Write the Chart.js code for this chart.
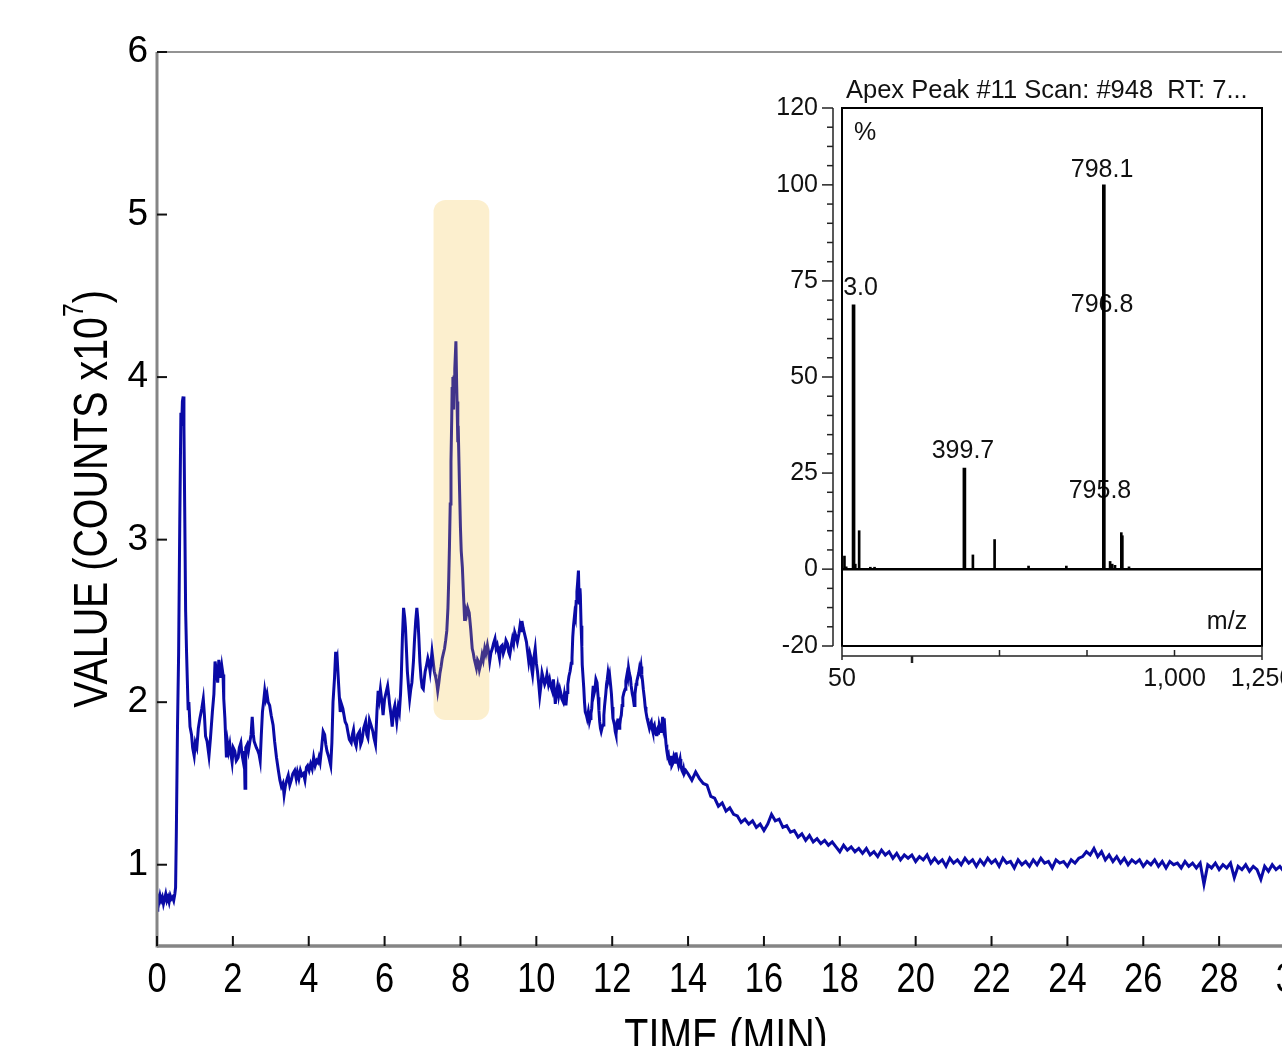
<!DOCTYPE html>
<html>
<head>
<meta charset="utf-8">
<script src="https://cdn.jsdelivr.net/npm/chart.js@4.4.1/dist/chart.umd.min.js"></script>
<style>
  html, body { margin: 0; padding: 0; background: #fff; overflow: hidden; }
  #wrap { position: relative; width: 1282px; height: 1046px; overflow: hidden; background: #fff; }
  #mainBox { position: absolute; left: 0; top: 0; width: 1340px; height: 1100px; }
  #insetBox { position: absolute; left: 760px; top: 60px; width: 560px; height: 650px; }
</style>
</head>
<body>
<div id="wrap">
  <div id="mainBox"><canvas id="mainChart"></canvas></div>
  <div id="insetBox"><canvas id="insetChart"></canvas></div>
</div>
<script>
// ---- chromatogram (time in min, value in counts x10^7) ----
const traceStart = [[0.00,0.72],[0.02,0.80],[0.05,0.77],[0.08,0.81],[0.11,0.78],[0.14,0.80],[0.17,0.76],[0.20,0.79],[0.23,0.82],[0.26,0.78],[0.29,0.80],[0.32,0.77],[0.35,0.81],[0.38,0.79],[0.41,0.80],[0.44,0.78],[0.47,0.82],[0.49,0.86],[0.51,1.20],[0.54,1.84],[0.57,2.30],[0.60,3.10],[0.63,3.78],[0.65,3.70],[0.67,3.85],[0.69,3.88],[0.71,3.70],[0.73,3.20],[0.755,2.56],[0.78,2.30],[0.80,2.13],[0.82,1.96],[0.84,2.00],[0.87,1.85],[0.91,1.80],[0.94,1.72],[0.98,1.67],[1.01,1.75],[1.05,1.72],[1.09,1.84],[1.13,1.90],[1.18,1.96],[1.22,2.02],[1.25,1.92],[1.28,1.79],[1.32,1.76],[1.37,1.67],[1.41,1.78],[1.46,1.94],[1.50,2.05],[1.53,2.25],[1.57,2.19],[1.60,2.12],[1.63,2.26],[1.66,2.20],[1.68,2.15],[1.71,2.22],[1.74,2.17],[1.76,2.02],[1.79,1.90],[1.81,1.78],[1.83,1.66],[1.86,1.75],[1.89,1.70],[1.92,1.74],[1.95,1.68],[1.98,1.63],[2.01,1.72],[2.05,1.70],[2.09,1.64],[2.14,1.66],[2.17,1.72],[2.21,1.75],[2.24,1.68],[2.27,1.64],[2.30,1.70],[2.32,1.47],[2.34,1.72],[2.38,1.74],[2.41,1.70],[2.45,1.76],[2.48,1.80],[2.51,1.91],[2.54,1.80],[2.56,1.76],[2.59,1.74],[2.62,1.72],[2.66,1.70],[2.69,1.68],[2.72,1.64],[2.75,1.80],[2.78,1.94],[2.81,2.00],[2.84,2.07],[2.87,2.02],[2.90,2.05],[2.93,2.00],[2.97,1.98],[3.01,1.92],[3.06,1.86],[3.10,1.76],[3.15,1.66],[3.20,1.58]];

const traceRise = [[3.24,1.52],[3.28,1.48],[3.32,1.50],[3.35,1.43],[3.38,1.48],[3.42,1.52],[3.46,1.55],[3.50,1.49],[3.54,1.52],[3.58,1.56],[3.63,1.58],[3.67,1.53],[3.70,1.57],[3.74,1.53],[3.78,1.58],[3.82,1.55],[3.86,1.56],[3.90,1.52],[3.94,1.60],[3.97,1.61],[4.01,1.58],[4.05,1.62],[4.09,1.59],[4.13,1.66],[4.17,1.61],[4.21,1.64],[4.24,1.63],[4.27,1.66],[4.30,1.63],[4.34,1.72],[4.38,1.82],[4.42,1.80],[4.45,1.74],[4.48,1.70],[4.53,1.66],[4.58,1.61],[4.61,1.75],[4.64,2.00],[4.68,2.15],[4.71,2.31],[4.73,2.25],[4.75,2.27],[4.79,2.10],[4.83,1.94],[4.86,1.99],[4.90,1.96],[4.93,1.92],[4.96,1.88],[5.00,1.86],[5.03,1.82],[5.07,1.77],[5.12,1.75],[5.15,1.80],[5.18,1.83],[5.21,1.76],[5.25,1.73],[5.29,1.80],[5.34,1.82],[5.37,1.74],[5.40,1.76],[5.45,1.84],[5.50,1.88],[5.53,1.80],[5.56,1.78],[5.60,1.89],[5.64,1.86],[5.69,1.82],[5.72,1.78],[5.76,1.74],[5.80,1.95],[5.83,2.07],[5.86,2.02],[5.89,2.08],[5.93,2.00],[5.96,1.92],[6.00,2.02],[6.04,2.06],[6.08,2.10],[6.11,2.04],[6.13,1.99],[6.17,1.92],[6.20,1.85],[6.24,1.95],[6.27,1.98],[6.30,1.92],[6.32,1.88],[6.36,1.97],[6.39,1.94],[6.42,2.05],[6.44,2.16],[6.47,2.40],[6.50,2.58],[6.53,2.52],[6.55,2.46],[6.58,2.30],[6.60,2.19],[6.63,2.10],[6.66,2.02],[6.69,2.08],[6.72,2.12],[6.76,2.25],[6.79,2.39],[6.82,2.50],[6.85,2.58],[6.88,2.50],[6.90,2.41],[6.93,2.25],[6.96,2.15],[6.99,2.09],[7.02,2.08],[7.05,2.15],[7.07,2.19],[7.10,2.22],[7.14,2.27],[7.17,2.24],[7.20,2.19],[7.23,2.26],[7.25,2.31],[7.28,2.25],[7.31,2.19],[7.33,2.17],[7.35,2.15],[7.38,2.11],[7.40,2.07],[7.43,2.12],[7.46,2.18],[7.49,2.22],[7.52,2.27],[7.55,2.30],[7.58,2.33]];

const tracePeak = [[7.61,2.38],[7.64,2.44],[7.67,2.58],[7.69,2.75],[7.71,2.96],[7.73,3.22],[7.75,3.48],[7.77,3.75],[7.78,3.93],[7.80,4.00],[7.82,3.80],[7.83,4.00],[7.85,4.05],[7.88,4.22],[7.90,3.95],[7.91,3.85],[7.93,3.60],[7.94,3.70],[7.97,3.37],[8.00,3.07],[8.02,2.93],[8.05,2.83],[8.08,2.66],[8.11,2.50],[8.14,2.56],[8.16,2.54],[8.19,2.58],[8.23,2.55],[8.27,2.45],[8.31,2.33],[8.34,2.30],[8.36,2.27],[8.39,2.24],[8.42,2.21],[8.45,2.26],[8.47,2.25],[8.50,2.20],[8.53,2.23],[8.57,2.29],[8.60,2.26],[8.64,2.33],[8.67,2.30],[8.71,2.35],[8.74,2.31],[8.77,2.25],[8.80,2.30],[8.84,2.33],[8.87,2.36],[8.91,2.39],[8.94,2.33],[8.97,2.35],[9.00,2.31],[9.03,2.27],[9.06,2.34],[9.10,2.35],[9.13,2.30],[9.17,2.33],[9.20,2.38],[9.24,2.36],[9.27,2.31],[9.30,2.29],[9.34,2.35],[9.37,2.39],[9.40,2.36],[9.43,2.43],[9.47,2.40],[9.50,2.37],[9.54,2.42],[9.57,2.47],[9.60,2.44],[9.62,2.50],[9.65,2.46],[9.68,2.43],[9.71,2.40],[9.74,2.37],[9.77,2.31],[9.80,2.25],[9.83,2.30],[9.86,2.27],[9.88,2.20],[9.90,2.17],[9.94,2.28],[9.97,2.33],[10.00,2.24]];

const traceLate = [[10.03,2.19],[10.06,2.12],[10.09,2.04],[10.12,2.10],[10.15,2.18],[10.18,2.15],[10.22,2.11],[10.25,2.13],[10.28,2.17],[10.32,2.11],[10.35,2.14],[10.38,2.10],[10.42,2.07],[10.45,2.14],[10.48,2.06],[10.50,1.99],[10.53,2.06],[10.56,2.10],[10.59,2.04],[10.62,2.08],[10.65,2.05],[10.67,2.02],[10.71,2.00],[10.74,2.05],[10.76,2.02],[10.78,1.98],[10.81,2.06],[10.83,2.11],[10.86,2.16],[10.89,2.19],[10.92,2.24],[10.94,2.27],[10.96,2.40],[10.98,2.47],[11.01,2.54],[11.03,2.52],[11.05,2.62],[11.07,2.68],[11.09,2.74],[11.11,2.81],[11.13,2.61],[11.15,2.70],[11.16,2.66],[11.18,2.47],[11.20,2.34],[11.21,2.23],[11.25,2.09],[11.27,2.00],[11.29,1.94],[11.32,1.92],[11.34,1.90],[11.37,1.94],[11.40,1.88],[11.42,1.90],[11.44,1.93],[11.46,1.96],[11.48,2.04],[11.50,2.10],[11.52,2.05],[11.54,2.07],[11.57,2.14],[11.60,2.12],[11.63,2.03],[11.65,1.95],[11.67,1.88],[11.69,1.84],[11.71,1.82],[11.74,1.85],[11.76,1.86],[11.78,1.92],[11.80,1.98],[11.83,2.05],[11.85,2.11],[11.87,2.14],[11.89,2.18],[11.91,2.15],[11.93,2.17],[11.96,2.10],[11.98,2.05],[12.00,1.97],[12.02,1.90],[12.04,1.88],[12.06,1.86],[12.08,1.82],[12.10,1.80],[12.13,1.88],[12.15,1.90],[12.18,1.84],[12.20,1.86],[12.22,1.90],[12.24,1.92],[12.26,1.98],[12.28,2.03],[12.31,2.06],[12.34,2.08],[12.36,2.13],[12.39,2.17],[12.41,2.15],[12.43,2.21],[12.45,2.18],[12.48,2.15],[12.50,2.10],[12.53,2.05],[12.55,2.03],[12.58,1.98],[12.60,2.05],[12.63,2.11],[12.65,2.13],[12.67,2.15],[12.70,2.18],[12.72,2.21],[12.74,2.19],[12.76,2.22],[12.78,2.17],[12.80,2.13],[12.82,2.08],[12.85,2.02],[12.87,1.97],[12.89,1.94],[12.92,1.90],[12.94,1.88],[12.96,1.86],[12.98,1.84],[13.01,1.87],[13.03,1.88],[13.05,1.84],[13.07,1.82],[13.09,1.85],[13.11,1.86],[13.14,1.81],[13.16,1.80],[13.18,1.83],[13.20,1.84],[13.22,1.80],[13.24,1.86],[13.27,1.83],[13.29,1.82],[13.31,1.85],[13.33,1.91],[13.35,1.86],[13.37,1.90],[13.40,1.80],[13.42,1.74],[13.44,1.70],[13.46,1.67],[13.48,1.68],[13.50,1.64],[13.53,1.62],[13.55,1.67],[13.57,1.61],[13.59,1.62],[13.62,1.66],[13.64,1.64],[13.66,1.63],[13.68,1.69],[13.70,1.66],[13.72,1.64],[13.75,1.61],[13.77,1.63],[13.79,1.65],[13.81,1.61],[13.84,1.58],[13.86,1.57],[13.88,1.59],[13.90,1.56],[13.94,1.58]];

const traceTail = [[14.0,1.56],[14.1,1.52],[14.2,1.57],[14.3,1.53],[14.4,1.50],[14.5,1.49],[14.6,1.42],[14.7,1.41],[14.8,1.36],[14.9,1.38],[15.0,1.33],[15.1,1.35],[15.2,1.31],[15.3,1.30],[15.4,1.26],[15.5,1.28],[15.6,1.25],[15.7,1.27],[15.8,1.23],[15.9,1.25],[16.0,1.21],[16.1,1.25],[16.2,1.31],[16.3,1.27],[16.4,1.28],[16.5,1.23],[16.6,1.24],[16.7,1.20],[16.8,1.21],[16.9,1.17],[17.0,1.19],[17.1,1.15],[17.2,1.18],[17.3,1.14],[17.4,1.16],[17.5,1.13],[17.6,1.15],[17.7,1.12],[17.8,1.14],[17.9,1.11],[18.0,1.08],[18.1,1.12],[18.2,1.09],[18.3,1.11],[18.4,1.08],[18.5,1.10],[18.6,1.07],[18.7,1.10],[18.8,1.06],[18.9,1.08],[19.0,1.05],[19.1,1.09],[19.2,1.06],[19.3,1.08],[19.4,1.04],[19.5,1.07],[19.6,1.03],[19.7,1.06],[19.8,1.04],[19.9,1.06],[20.0,1.02],[20.1,1.05],[20.2,1.03],[20.3,1.06],[20.4,1.01],[20.5,1.04],[20.6,1.01],[20.7,1.03],[20.8,0.99],[20.9,1.04],[21.0,1.01],[21.1,1.03],[21.2,1.00],[21.3,1.04],[21.4,1.01],[21.5,1.03],[21.6,0.99],[21.7,1.03],[21.8,1.00],[21.9,1.04],[22.0,1.01],[22.1,1.03],[22.2,0.99],[22.3,1.04],[22.4,1.01],[22.5,1.02],[22.6,0.98],[22.7,1.03],[22.8,1.00],[22.9,1.02],[23.0,0.99],[23.1,1.03],[23.2,1.00],[23.3,1.04],[23.4,1.01],[23.5,1.02],[23.6,0.98],[23.7,1.03],[23.8,1.01],[23.9,1.02],[24.0,0.99],[24.1,1.03],[24.2,1.01],[24.3,1.04],[24.4,1.05],[24.5,1.08],[24.6,1.06],[24.7,1.10],[24.8,1.05],[24.9,1.08],[25.0,1.03],[25.1,1.06],[25.2,1.02],[25.3,1.05],[25.4,1.01],[25.5,1.04],[25.6,1.00],[25.7,1.03],[25.8,1.01],[25.9,1.03],[26.0,0.99],[26.1,1.02],[26.2,1.00],[26.3,1.03],[26.4,0.99],[26.5,1.02],[26.6,0.98],[26.7,1.02],[26.8,1.00],[26.9,1.01],[27.0,0.98],[27.1,1.02],[27.2,0.99],[27.3,1.01],[27.4,0.98],[27.5,1.01],[27.6,0.88],[27.7,1.00],[27.8,0.98],[27.9,1.01],[28.0,0.97],[28.1,1.00],[28.2,0.98],[28.3,1.01],[28.4,0.92],[28.5,0.99],[28.6,0.97],[28.7,1.00],[28.8,0.96],[28.9,0.99],[29.0,0.97],[29.1,0.91],[29.2,0.99],[29.3,0.96],[29.4,1.00],[29.5,0.97],[29.6,0.99],[29.7,0.96],[29.8,0.98],[29.9,0.97],[30.0,0.99]];

const timeTicks = [0, 2, 4, 6, 8, 10, 12, 14, 16, 18, 20, 22, 24, 26, 28, 30];
const valueTicks = [1, 2, 3, 4, 5, 6];
// highlighted window: [t start, t end, low value, high value]
const highlightWindow = [7.29, 8.76, 1.89, 5.09];

// ---- inset mass spectrum (m/z, relative %) ----
const majorMz = [83.0, 399.7, 798.1];
const majorPct = [68.8, 26.3, 100];
const minorMz = [57, 62, 88, 99, 131, 143, 424, 486, 583, 691, 816, 822, 830, 848, 851, 870];
const minorPct = [3.4, 0.6, 1.3, 10.0, 0.5, 0.5, 3.7, 7.7, 0.8, 0.8, 2.0, 1.3, 1.0, 9.5, 8.7, 0.6];
const peakLabelText = ['83.0', '399.7', '798.1', '796.8', '795.8'];
const peakLabelMz = [83, 395.7, 793, 793, 787];
const peakLabelPct = [73.2, 30.7, 103.9, 68.8, 20.3];
const mzTicks = [50, 1000, 1250];
const pctTicks = [-20, 0, 25, 50, 75, 100, 120];

const plainFont = '"Liberation Sans", Arial, sans-serif';
const narrowScale = 0.82;   // Arial Narrow look: Liberation Sans squeezed horizontally
const traceColor = '#0a0aa6';

Chart.defaults.color = '#000';

const tracePoints = [...traceStart, ...traceRise, ...tracePeak, ...traceLate, ...traceTail]
  .map(p => ({ x: p[0], y: p[1] }));

function strokeLine(ctx, x1, y1, x2, y2) {
  ctx.beginPath();
  ctx.moveTo(x1, y1);
  ctx.lineTo(x2, y2);
  ctx.stroke();
}

// narrow text centred on (x, baseline y)
function narrowText(ctx, txt, x, y, size) {
  ctx.save();
  ctx.translate(x, y);
  ctx.scale(narrowScale, 1);
  ctx.font = size + 'px ' + plainFont;
  ctx.textAlign = 'center';
  ctx.textBaseline = 'alphabetic';
  ctx.fillText(txt, 0, 0);
  ctx.restore();
}

const mainDecor = {
  id: 'mainDecor',
  afterDatasetsDraw(chart) {
    const { ctx, scales: { x, y } } = chart;
    const l = x.getPixelForValue(highlightWindow[0]);
    const r = x.getPixelForValue(highlightWindow[1]);
    const t = y.getPixelForValue(highlightWindow[3]);
    const b = y.getPixelForValue(highlightWindow[2]);
    ctx.save();
    ctx.fillStyle = 'rgba(242, 190, 50, 0.24)';
    ctx.beginPath();
    ctx.roundRect(l, t, r - l, b - t, 12);
    ctx.fill();
    ctx.restore();
  },
  afterDraw(chart) {
    const { ctx, chartArea: a, scales: { x, y } } = chart;
    ctx.save();
    // frame top
    ctx.strokeStyle = '#6f6f6f';
    ctx.lineWidth = 1.5;
    strokeLine(ctx, a.left, a.top, a.right, a.top);
    // axes
    ctx.strokeStyle = '#858585';
    ctx.lineWidth = 3;
    strokeLine(ctx, a.left, a.top, a.left, a.bottom + 1.5);
    ctx.lineWidth = 3.5;
    strokeLine(ctx, a.left, a.bottom, a.right, a.bottom);
    // inward ticks
    ctx.strokeStyle = '#111';
    ctx.lineWidth = 2;
    y.ticks.forEach(tk => {
      const py = y.getPixelForValue(tk.value);
      strokeLine(ctx, a.left, py, a.left + 10, py);
    });
    x.ticks.forEach(tk => {
      const px = x.getPixelForValue(tk.value);
      strokeLine(ctx, px, a.bottom, px, a.bottom - 10);
    });
    // x tick labels (narrow)
    ctx.fillStyle = '#000';
    x.ticks.forEach(tk => {
      narrowText(ctx, String(tk.value), x.getPixelForValue(tk.value), a.bottom + 46, 42);
    });
    // y title with superscript
    const part1 = 'VALUE (COUNTS x10', part2 = '7', part3 = ')';
    ctx.font = '48px ' + plainFont;
    const w1 = ctx.measureText(part1).width, w3 = ctx.measureText(part3).width;
    ctx.font = '30px ' + plainFont;
    const w2 = ctx.measureText(part2).width;
    const total = w1 + w2 + w3;
    ctx.save();
    ctx.translate(107, (a.top + a.bottom) / 2);
    ctx.rotate(-Math.PI / 2);
    ctx.scale(narrowScale, 1);
    ctx.textAlign = 'left';
    ctx.textBaseline = 'alphabetic';
    ctx.font = '48px ' + plainFont;
    ctx.fillText(part1, -total / 2, 0);
    ctx.font = '30px ' + plainFont;
    ctx.fillText(part2, -total / 2 + w1, -24);
    ctx.font = '48px ' + plainFont;
    ctx.fillText(part3, -total / 2 + w1 + w2, 0);
    ctx.restore();
    // x title
    narrowText(ctx, 'TIME (MIN)', (a.left + a.right) / 2, a.bottom + 106, 48);
    ctx.restore();
  }
};

new Chart(document.getElementById('mainChart'), {
  type: 'line',
  data: {
    datasets: [{
      data: tracePoints,
      borderColor: traceColor,
      borderWidth: 3,
      pointRadius: 0,
      tension: 0,
      fill: false
    }]
  },
  options: {
    responsive: true,
    maintainAspectRatio: false,
    animation: false,
    layout: { padding: { top: 52, right: 45, left: 0, bottom: 0 } },
    plugins: { legend: { display: false }, tooltip: { enabled: false } },
    scales: {
      x: {
        type: 'linear',
        min: 0,
        max: 30,
        afterBuildTicks: s => { s.ticks = timeTicks.map(v => ({ value: v })); },
        afterFit: s => { s.height = 154; },
        grid: { display: false, drawTicks: false },
        border: { display: false },
        ticks: { display: false }
      },
      y: {
        min: 0.5,
        max: 6,
        afterBuildTicks: s => { s.ticks = valueTicks.map(v => ({ value: v })); },
        afterFit: s => { s.width = 157; },
        grid: { display: false, drawTicks: false },
        border: { display: false },
        ticks: { font: { family: plainFont, size: 37 }, color: '#000', padding: 9 }
      }
    }
  },
  plugins: [mainDecor]
});

// ---- inset ----
const insetDecor = {
  id: 'insetDecor',
  beforeDatasetsDraw(chart) {
    const { ctx, chartArea: a, scales: { x, y } } = chart;
    ctx.save();
    ctx.beginPath();
    ctx.rect(a.left, a.top, a.right - a.left, a.bottom - a.top);
    ctx.clip();
    ctx.fillStyle = '#111';
    ctx.font = '25px ' + plainFont;
    ctx.textAlign = 'center';
    ctx.textBaseline = 'middle';
    peakLabelText.forEach((txt, i) => {
      ctx.fillText(txt, x.getPixelForValue(peakLabelMz[i]), y.getPixelForValue(peakLabelPct[i]));
    });
    ctx.fillText('%', x.getPixelForValue(115.7), y.getPixelForValue(113.5));
    ctx.fillText('m/z', x.getPixelForValue(1150), y.getPixelForValue(-13.8));
    ctx.restore();
  },
  afterDatasetsDraw(chart) {
    const { ctx, chartArea: a, scales: { x, y } } = chart;
    ctx.save();
    ctx.strokeStyle = '#000';
    // zero line
    ctx.lineWidth = 2.5;
    const y0 = y.getPixelForValue(0);
    strokeLine(ctx, a.left, y0, a.right, y0);
    // frame
    ctx.lineWidth = 2;
    ctx.strokeRect(a.left, a.top, a.right - a.left, a.bottom - a.top);
    // offset y axis with major/minor ticks
    const ax = a.left - 9;
    ctx.strokeStyle = '#222';
    ctx.lineWidth = 1.5;
    strokeLine(ctx, ax, a.top, ax, a.bottom);
    for (let v = -20; v <= 120; v += 5) {
      const py = y.getPixelForValue(v);
      const major = pctTicks.includes(v);
      strokeLine(ctx, ax, py, ax - (major ? 11 : 6), py);
    }
    // offset x axis
    const ay = a.bottom + 10;
    strokeLine(ctx, a.left, ay, a.right, ay);
    strokeLine(ctx, a.left, a.bottom, a.left, ay + 4);
    strokeLine(ctx, a.right, a.bottom, a.right, ay + 4);
    [500, 750, 1000].forEach(v => {
      const px = x.getPixelForValue(v);
      strokeLine(ctx, px, ay, px, ay - 6);
    });
    ctx.lineWidth = 2.5;
    const p250 = x.getPixelForValue(250);
    strokeLine(ctx, p250, ay, p250, ay + 7);
    // title
    ctx.fillStyle = '#111';
    ctx.font = '25.5px ' + plainFont;
    ctx.textAlign = 'left';
    ctx.textBaseline = 'alphabetic';
    ctx.fillText('Apex Peak #11 Scan: #948  RT: 7...', a.left + 4, a.top - 10);
    ctx.restore();
  }
};

new Chart(document.getElementById('insetChart'), {
  type: 'bar',
  data: {
    datasets: [
      {
        data: majorMz.map((m, i) => ({ x: m, y: majorPct[i] })),
        backgroundColor: '#000',
        barThickness: 3,
        grouped: false
      },
      {
        data: minorMz.map((m, i) => ({ x: m, y: minorPct[i] })),
        backgroundColor: '#000',
        barThickness: 2,
        grouped: false
      }
    ]
  },
  options: {
    responsive: true,
    maintainAspectRatio: false,
    animation: false,
    layout: { padding: { top: 48, right: 58, left: 0, bottom: 0 } },
    plugins: { legend: { display: false }, tooltip: { enabled: false } },
    scales: {
      x: {
        type: 'linear',
        min: 50,
        max: 1250,
        offset: false,
        afterBuildTicks: s => { s.ticks = mzTicks.map(v => ({ value: v })); },
        afterFit: s => { s.height = 64; },
        grid: { display: false, drawTicks: false },
        border: { display: false },
        ticks: {
          font: { family: plainFont, size: 25 },
          color: '#111',
          padding: 18,
          maxRotation: 0,
          autoSkip: false,
          callback: v => v.toLocaleString('en-US')
        }
      },
      y: {
        min: -20,
        max: 120,
        afterBuildTicks: s => { s.ticks = pctTicks.map(v => ({ value: v })); },
        afterFit: s => { s.width = 82; },
        grid: { display: false, drawTicks: false },
        border: { display: false },
        ticks: { font: { family: plainFont, size: 25 }, color: '#111', padding: 24 }
      }
    }
  },
  plugins: [insetDecor]
});
</script>
</body>
</html>
